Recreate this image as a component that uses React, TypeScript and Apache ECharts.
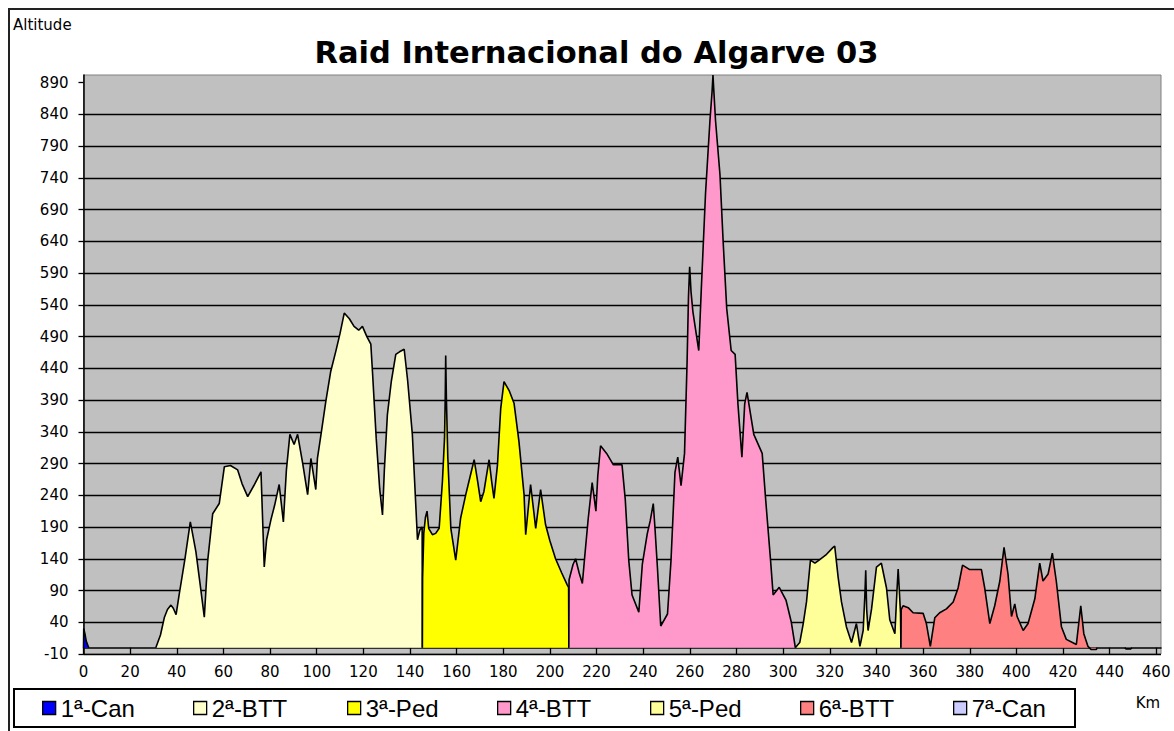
import React, { useEffect, useRef } from 'react';
import * as echarts from 'echarts';

// ---- data ----
const stageNames = ['1ª-Can', '2ª-BTT', '3ª-Ped', '4ª-BTT', '5ª-Ped', '6ª-BTT', '7ª-Can'];

const stage1: number[][] = [[0, 0], [0.1, 30], [0.6, 22], [1.2, 10], [2, 2], [2.3, 0]];

const stage2: number[][] = [
  [31, 0], [33, 20], [34.7, 48], [36, 60], [37.5, 67], [38.5, 62], [39.7, 52], [41, 83], [43.5, 140], [45.8, 198],
  [47, 175], [48.2, 151], [50, 100], [51.8, 48], [53.2, 135], [55.4, 211], [58.2, 227], [60.4, 285], [63, 287],
  [66.1, 280], [68, 258], [70.4, 238], [73, 255], [76.1, 277], [77.5, 127], [78.5, 170], [80.4, 202], [82, 225],
  [83.9, 257], [85.7, 198], [87, 280], [88.5, 336], [90.3, 320], [91.8, 336], [94, 290], [96.1, 241], [97.5, 298],
  [99.6, 249], [100.3, 298], [102, 340], [103.9, 388], [106, 435], [108.2, 467], [110, 495], [111.8, 527],
  [114, 518], [116, 506], [118, 500], [119.6, 506], [121.5, 490], [123.2, 478], [123.9, 435], [125.5, 330],
  [127, 250], [128.2, 209], [129, 280], [130.3, 367], [132, 420], [133.9, 462], [135.5, 466], [137.5, 470],
  [139, 420], [141, 336], [142, 260], [143.2, 170], [144.2, 185], [145.2, 190], [145.3, 0],
];

const stage3: number[][] = [
  [145.3, 0], [145.4, 110], [145.9, 180], [146.6, 205], [147.3, 215], [148, 188], [149.6, 178], [151, 180],
  [152.5, 188], [153.9, 262], [154.8, 330], [155.1, 393], [155.3, 460], [155.6, 393], [156.2, 300], [157.5, 188],
  [159.6, 138], [161.7, 204], [163.9, 241], [165.8, 270], [167.5, 296], [169, 262], [170.3, 230], [171.7, 246],
  [173.9, 296], [175, 262], [176, 235], [177.5, 288], [178.9, 377], [180.3, 419], [182.5, 405], [184.6, 385],
  [186.7, 325], [188.9, 241], [189.6, 178], [191.7, 257], [193.9, 188], [196, 249], [198.1, 194], [200, 168],
  [202.4, 140], [205, 118], [207.4, 99], [208, 95], [208.1, 0],
];

const stage4: number[][] = [
  [208.1, 0], [208.2, 107], [209.9, 131], [211, 140], [212.5, 118], [213.9, 101], [214.9, 143], [216.4, 203],
  [218.1, 260], [219, 235], [219.7, 215], [220.5, 270], [221.7, 318], [224.3, 306], [227.2, 288], [230.9, 288],
  [232.3, 233], [233.8, 137], [235.2, 83], [238.1, 56], [239.6, 131], [241.7, 179], [243, 200], [244.3, 227],
  [245, 190], [246.1, 125], [247.5, 34], [250.4, 53], [251.9, 137], [253.6, 276], [254.8, 300], [256.2, 255],
  [257.7, 306], [258.8, 450], [259.4, 553], [259.9, 600], [260.5, 560], [261.3, 529], [263.8, 468], [264.9, 565],
  [266.7, 715], [268.6, 830], [269.5, 875], [269.9, 902], [270.3, 875], [271, 830], [272.9, 745], [274.3, 637],
  [275.8, 534], [277.7, 468], [279.4, 462], [280.6, 384], [282.3, 300], [283.5, 384], [284.5, 402], [287.4, 336],
  [291, 306], [292.5, 233], [294.6, 137], [295.7, 83], [298.3, 95], [301.2, 75], [303.5, 40], [305, 5], [305.2, 0],
];

const stage5: number[][] = [
  [305.2, 0], [307.1, 8], [308.6, 38], [310, 72], [311.7, 138], [313.6, 133], [315.4, 138], [318.6, 147],
  [321.4, 158], [322.1, 160], [323.6, 110], [325, 72], [327.1, 33], [329.3, 8], [331.4, 38], [332.9, 2],
  [334.3, 27], [335, 80], [335.4, 122], [335.8, 60], [336.4, 27], [337.9, 61], [340, 127], [342.1, 133],
  [344.3, 94], [345.7, 44], [347.9, 22], [348.8, 90], [349.3, 124], [349.8, 90], [350.3, 55], [350.5, 0],
];

const stage6: number[][] = [
  [350.5, 0], [350.6, 60], [351.4, 66], [353.6, 63], [355.7, 55], [360, 54], [361.4, 38], [363.1, 2], [365, 47],
  [367.1, 55], [370, 61], [372.9, 72], [375, 94], [376.9, 130], [380, 123], [385, 123], [386.4, 94], [388.6, 38],
  [390.7, 66], [392.9, 105], [394.7, 158], [396.4, 116], [397.9, 49], [399.3, 69], [400.3, 49], [402.9, 27],
  [405, 38], [407.9, 77], [410, 133], [411.4, 105], [413.6, 116], [415.4, 149], [417.1, 105], [419.3, 33],
  [421.4, 13], [425.7, 5], [427.6, 66], [428.9, 22], [430.7, 2], [432.1, -3], [434.3, -3], [434.5, 0],
];

const stage7: number[][] = [[446.5, 0], [447, -2], [449, -2], [449.5, 0]];

const xTicks = [0, 20, 40, 60, 80, 100, 120, 140, 160, 180, 200, 220, 240, 260, 280, 300, 320, 340, 360, 380, 400, 420, 440, 460];
const yTicks = [-10, 40, 90, 140, 190, 240, 290, 340, 390, 440, 490, 540, 590, 640, 690, 740, 790, 840, 890];

// ---- styles ----
const stageColors = ['#0000FF', '#FFFFCC', '#FFFF00', '#FF99CC', '#FFFF99', '#FF8080', '#CCCCFF'];
const legendLefts = [42, 193, 347, 497, 650, 800, 953];

const stages = [stage1, stage2, stage3, stage4, stage5, stage6, stage7];

export default function App() {
  const ref = useRef<HTMLDivElement>(null);
  useEffect(() => {
    if (!ref.current) return;
    const chart = echarts.init(ref.current, undefined, { renderer: 'svg' });
    const axisFont = 'DejaVu Sans';
    chart.setOption({
      animation: false,
      backgroundColor: '#ffffff',
      grid: {
        left: 83.5, top: 75, right: 13, bottom: 77,
        show: true, backgroundColor: '#C0C0C0', borderColor: '#808080', borderWidth: 1,
      },
      xAxis: {
        type: 'value', min: 0, max: 462, interval: 20,
        axisLine: { show: true, onZero: true, lineStyle: { color: '#000', width: 1.5 } },
        axisTick: { show: true, length: 7, lineStyle: { color: '#000', width: 1.3 }, customValues: xTicks },
        axisLabel: { customValues: xTicks, margin: 10, color: '#000', fontSize: 15, fontFamily: axisFont },
        splitLine: { show: false },
      },
      yAxis: {
        type: 'value', min: -10, max: 902, interval: 50,
        axisLine: { show: true, lineStyle: { color: '#000', width: 1.5 } },
        axisTick: { show: true, length: 5, lineStyle: { color: '#000', width: 1.3 }, customValues: yTicks },
        axisLabel: { customValues: yTicks, margin: 15, color: '#000', fontSize: 15, fontFamily: axisFont },
        splitLine: { show: true, showMaxLine: false, lineStyle: { color: '#000', width: 1.4 } },
      },
      legend: stageNames.map((n, i) => ({
        data: [n], left: legendLefts[i], top: 695, padding: 0, icon: 'rect',
        itemWidth: 13, itemHeight: 13, itemGap: 0, selectedMode: false,
        itemStyle: { borderColor: '#000', borderWidth: 1.3 },
        textStyle: { color: '#000', fontSize: 24, lineHeight: 26, fontFamily: 'Arial, "Liberation Sans"', padding: [0, 0, 0, 0] },
      })),
      graphic: [
        { type: 'line', shape: { x1: 9, y1: 8, x2: 9, y2: 731 }, style: { stroke: '#222', lineWidth: 2 } },
        { type: 'line', shape: { x1: 8, y1: 9, x2: 1174, y2: 9 }, style: { stroke: '#222', lineWidth: 2 } },
        { type: 'rect', shape: { x: 14, y: 689, width: 1061, height: 38 }, style: { fill: 'none', stroke: '#000', lineWidth: 2 } },
        { type: 'text', x: 13, y: 25, style: { text: 'Altitude', fill: '#000', font: '15px "DejaVu Sans"', textVerticalAlign: 'middle' } },
        { type: 'text', x: 596.5, y: 52, style: { text: 'Raid Internacional do Algarve 03', fill: '#000', font: 'bold 30.5px "DejaVu Sans"', textAlign: 'center', textVerticalAlign: 'middle' } },
        { type: 'text', x: 1148, y: 703, style: { text: 'Km', fill: '#000', font: '15px "DejaVu Sans"', textAlign: 'center', textVerticalAlign: 'middle' } },
      ],
      series: stages.map((d, i) => ({
        name: stageNames[i], type: 'line', data: d, symbol: 'none', showSymbol: false, silent: true,
        lineStyle: { color: '#000', width: 1.6 },
        itemStyle: { color: stageColors[i] },
        areaStyle: { color: stageColors[i], opacity: 1 },
        z: 2 + i,
      })),
    });
    return () => chart.dispose();
  }, []);
  return <div ref={ref} style={{ position: 'fixed', left: 0, top: 0, width: 1174, height: 731 }} />;
}
